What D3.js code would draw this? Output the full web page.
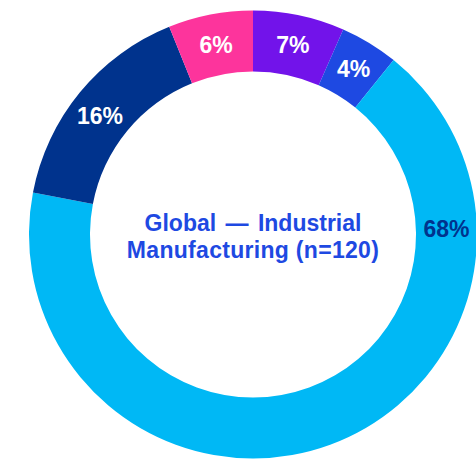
<!DOCTYPE html>
<html>
<head>
<meta charset="utf-8">
<script src="https://cdn.jsdelivr.net/npm/d3@7"></script>
<style>
  html, body { margin: 0; padding: 0; background: #ffffff; }
  svg { display: block; }
</style>
</head>
<body>
<svg id="chart" width="476" height="460"></svg>
<script>
// Data (clockwise from 12 o'clock)
const categories = ["Segment A", "Segment B", "Segment C", "Segment D", "Segment E"];
const shares = [6.6, 4.2, 67.2, 15.9, 6.1];   // share of respondents (%), n = 120
const labels = ["7%", "4%", "68%", "16%", "6%"];
const colors = ["#7213EA", "#1E49E2", "#00B8F5", "#00338D", "#FD349C"];
const labelColors = ["#ffffff", "#ffffff", "#00338D", "#ffffff", "#ffffff"];
const titleLines = ["Global \u2014 Industrial", "Manufacturing (n=120)"];

const svg = d3.select("#chart");
const cx = 253, cy = 234.5;
const outerR = 224, innerR = 163;

const data = categories.map((c, i) => ({ cat: c, value: shares[i], label: labels[i], color: colors[i], lc: labelColors[i], i }));

const pie = d3.pie().value(d => d.value).sort(null);
const arc = d3.arc().innerRadius(innerR).outerRadius(outerR);
const arcs = pie(data);

const g = svg.append("g").attr("transform", `translate(${cx},${cy})`);

g.selectAll("path.slice")
  .data(arcs)
  .join("path")
  .attr("class", "slice")
  .attr("d", arc)
  .attr("fill", d => d.data.color);

// label positions: centroid, except the largest slice, whose label sits at its right side
const midR = (innerR + outerR) / 2;
g.selectAll("text.lbl")
  .data(arcs)
  .join("text")
  .attr("class", "lbl")
  .attr("transform", d => {
    let a = (d.startAngle + d.endAngle) / 2;
    if (d.data.value === d3.max(shares)) a = Math.PI / 2 - 0.03;
    if (d.data.label === "16%") a -= 0.03;
    const x = midR * Math.sin(a), y = -midR * Math.cos(a);
    return `translate(${x},${y})`;
  })
  .attr("text-anchor", "middle")
  .attr("dominant-baseline", "central")
  .attr("font-family", "'Liberation Sans', Arial, sans-serif")
  .attr("font-weight", "bold")
  .attr("font-size", 23)
  .attr("fill", d => d.data.lc)
  .text(d => d.data.label);

// center title
const title = g.append("text")
  .attr("text-anchor", "middle")
  .attr("font-family", "'Liberation Sans', Arial, sans-serif")
  .attr("font-weight", "bold")
  .attr("font-size", 23)
  .attr("fill", "#1E49E2");
title.selectAll("tspan")
  .data(titleLines)
  .join("tspan")
  .attr("x", 0)
  .attr("y", (d, i) => -4 + i * 27)
  .attr("word-spacing", (d, i) => i === 0 ? 3 : 0)
  .attr("letter-spacing", (d, i) => i === 0 ? 0 : 0.3)
  .text(d => d);
</script>
</body>
</html>
